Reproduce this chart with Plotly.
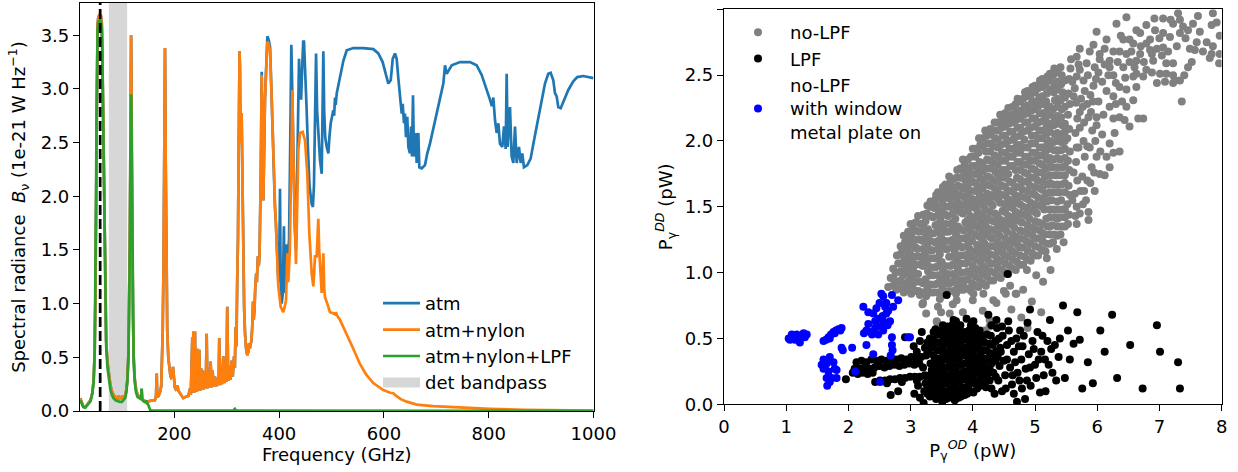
import plotly.graph_objects as go

# ---------------- left panel: atmospheric spectra ----------------
# (frequency GHz, spectral radiance 1e-21 W Hz^-1)
# below ~362 GHz the bare atmosphere and the nylon-filtered curve coincide
SPEC_SHARED = [
    (20.5, 0.118), (23, 0.08), (26.4, 0.04), (30, 0.035), (33, 0.05), (37, 0.08), (40, 0.10),
    (43.5, 0.17), (46, 0.28), (48, 0.55), (49.5, 1.1), (50.5, 1.9), (51.6, 2.8), (52.5, 3.35),
    (53.5, 3.6), (55, 3.67), (57.5, 3.69), (60, 3.68), (61.5, 3.62), (62.5, 3.4), (63.5, 3.0),
    (64.5, 2.5), (65.8, 1.9), (67, 1.4), (68.5, 0.95), (70, 0.65), (72.5, 0.45), (75, 0.33),
    (78, 0.24), (81, 0.18), (84, 0.15), (88, 0.13), (92, 0.12), (93.5, 0.14), (95, 0.12),
    (99, 0.12), (101, 0.145), (102.5, 0.12), (106, 0.14), (108.5, 0.2), (110.5, 0.3),
    (112.5, 0.55), (114, 1.0), (115.3, 1.7), (116.3, 2.6), (117, 3.2), (117.5, 3.50),
    (118.1, 3.2), (118.8, 2.5), (119.8, 1.6), (121, 0.9), (122.5, 0.5), (124.5, 0.3),
    (127, 0.2), (130, 0.15), (134, 0.13), (136.5, 0.12), (137.7, 0.2), (138.5, 0.12),
    (141, 0.10), (145, 0.09), (150, 0.09), (156, 0.1), (160, 0.1), (163, 0.10), (165, 0.13),
    (166.4, 0.35), (167.5, 0.13), (170, 0.14), (173, 0.18), (175, 0.23), (177.8, 0.73),
    (179.5, 1.4), (180.8, 2.3), (181.6, 3.0), (182.2, 3.38), (182.8, 3.0), (183.6, 2.3),
    (184.8, 1.4), (186.5, 0.75), (188.5, 0.5), (190.5, 0.4), (192.5, 0.33), (194, 0.31),
    (196, 0.32), (197.5, 0.41), (199, 0.28), (201, 0.22), (204, 0.19), (206, 0.24),
    (207.5, 0.19), (211, 0.16), (214, 0.14), (217, 0.12), (221, 0.13), (226.7, 0.14),
    (230, 0.21), (231.5, 0.15), (234.4, 0.69), (235.5, 0.17), (236.3, 0.74), (238, 0.17),
    (239.5, 0.74), (240.5, 0.18), (241.5, 0.51), (243, 0.18), (244.6, 0.58), (246, 0.19),
    (247.7, 0.57), (249.3, 0.19), (251, 0.40), (252.5, 0.2), (254, 0.38), (256, 0.2),
    (258.5, 0.37), (260, 0.21), (261.7, 0.72), (263.3, 0.21), (264.8, 0.35), (266.5, 0.22),
    (269.3, 0.46), (271, 0.22), (273, 0.38), (275, 0.23), (277.6, 0.32), (280, 0.23),
    (283, 0.3), (284.5, 0.24), (285.8, 0.68), (287.3, 0.24), (289, 0.40), (291, 0.25),
    (293.5, 0.51), (295.5, 0.26), (298, 0.35), (299.5, 0.27), (301, 0.97), (302.8, 0.28),
    (305, 0.42), (307, 0.29), (309.5, 0.47), (311.5, 0.32), (314, 0.51), (315.5, 0.4),
    (317, 0.78), (318.5, 0.6), (320, 1.19), (321.5, 1.6), (322.8, 2.4), (323.8, 3.1),
    (324.5, 3.35), (325.3, 3.2), (326.2, 2.6), (327.3, 2.5), (328.4, 2.77), (329.5, 2.3),
    (330.5, 1.8), (331.6, 1.34), (333.3, 0.95), (335, 0.72), (337, 0.58), (339.3, 0.52),
    (341, 0.55), (342.6, 0.63), (344, 0.58), (345.5, 0.62), (347, 0.65), (348.7, 0.78),
    (350.3, 1.02), (351.5, 0.85), (353, 0.95), (354.5, 1.15), (356.3, 1.28), (357.5, 1.2),
    (359.5, 1.44), (361, 1.35), (362.6, 1.44),
]

ATM_HIGH = [
    (365, 2.2), (366.8, 3.16), (368.5, 2.2), (369.9, 1.96), (373, 2.90), (375.5, 3.35),
    (377.6, 3.49), (380, 3.46), (382.7, 3.39), (385.9, 2.90), (389, 2.27), (392, 1.9),
    (394, 1.74), (396, 1.5), (398.5, 1.2), (400.5, 1.5), (401.7, 2.07), (403, 1.2),
    (405, 1.0), (407, 1.1), (409.2, 1.72), (410.5, 1.1), (412, 1.2), (413.2, 1.51),
    (415, 1.55), (417, 1.45), (419, 1.6), (421, 2.4), (423.3, 3.41), (425.5, 2.9),
    (428, 2.1), (430, 1.7), (432.2, 1.5), (434, 2.0), (436, 2.8), (438, 3.28), (440, 3.0),
    (442, 2.9), (444, 3.2), (446, 3.44), (447.5, 3.44), (449.5, 3.1), (452.6, 2.8),
    (455, 2.45), (458, 2.1), (462, 1.93), (464.5, 1.90), (466.5, 2.1), (468.5, 2.6),
    (470.5, 3.33), (472.5, 2.8), (475, 2.6), (478, 2.34), (481.3, 2.21), (483, 2.7),
    (484.4, 3.35), (486, 2.8), (488, 2.55), (490.8, 2.46), (494, 2.40), (496, 2.55),
    (498.5, 2.68), (503.4, 2.80), (505, 2.75), (506.7, 2.92), (508, 2.85), (510, 2.96),
    (516, 3.12), (522.5, 3.26), (529, 3.36), (541.7, 3.38), (560.7, 3.38), (579.8, 3.37),
    (589.3, 3.33), (597.6, 3.25), (604, 3.13), (608.4, 3.05), (613, 3.08), (616.8, 3.28),
    (621.1, 3.33), (624.4, 3.28), (627.5, 3.10), (630.7, 2.90), (634, 2.77), (635.8, 2.86),
    (638.3, 2.68), (640.2, 2.77), (642.1, 2.55), (644.6, 2.74), (646.6, 2.46), (649.8, 2.40),
    (651.7, 2.65), (653.6, 2.37), (655.5, 2.94), (657.4, 2.37), (660.6, 2.59), (662.5, 2.31),
    (665.7, 2.59), (667.6, 2.27), (672.1, 2.26), (678.4, 2.29), (682.8, 2.40), (687.9, 2.49),
    (697.5, 2.71), (707, 2.93), (713.4, 3.05), (716.6, 3.22), (719.8, 3.14), (729.4, 3.22),
    (745.2, 3.25), (764.3, 3.25), (777, 3.22), (786.6, 3.13), (796.1, 3.00), (802.4, 2.90),
    (806, 2.84), (808.8, 2.92), (812, 2.71), (815.2, 2.59), (818.4, 2.68), (821.5, 2.49),
    (826, 2.46), (829.2, 2.65), (832.4, 2.44), (834.3, 3.14), (836.2, 2.46), (840.6, 2.83),
    (843.8, 2.37), (847, 2.31), (850.2, 2.65), (853.4, 2.31), (857.8, 2.46), (861, 2.31),
    (864.1, 2.40), (867.3, 2.27), (873.7, 2.29), (880, 2.35), (886.4, 2.52), (891.5, 2.65),
    (895.3, 2.74), (901.1, 2.90), (907.4, 3.05), (913.7, 3.14), (918.3, 3.15), (923.3, 3.08),
    (926.5, 2.96), (929.7, 2.93), (932.8, 2.83), (937.4, 2.82), (943.7, 2.90), (951.9, 2.99),
    (961.4, 3.07), (969, 3.11), (980.5, 3.12), (1000, 3.10),
]

NYLON_HIGH = [
    (365, 2.2), (366.8, 3.13), (368.5, 2.2), (369.9, 1.96), (373, 2.90), (375.5, 3.3),
    (377.6, 3.44), (380, 3.42), (382.7, 3.35), (385.9, 2.90), (389, 2.27), (392, 1.95),
    (394, 1.72), (396, 1.4), (398.5, 1.16), (403, 0.97), (408, 0.92), (411, 0.98),
    (413.2, 1.03), (415.8, 1.47), (417.5, 1.2), (419, 1.34), (420.5, 1.5), (422, 1.96),
    (425.3, 2.99), (427, 2.4), (428.5, 2.09), (430.5, 1.6), (432.2, 1.37), (434.5, 1.9),
    (436.7, 2.43), (440, 2.59), (445, 2.60), (449.4, 2.52), (453.8, 2.21), (457.7, 1.65),
    (462.2, 1.28), (465.3, 1.16), (466.8, 1.3), (468.5, 1.44), (471.7, 1.44), (473.5, 1.6),
    (474.8, 1.79), (476.5, 1.5), (478, 1.34), (481.3, 1.10), (483, 1.25), (484.4, 1.47),
    (486, 1.15), (487.6, 1.06), (492, 1.00), (497, 0.92), (503.4, 0.91), (506.5, 0.90),
    (508.5, 0.92), (510.5, 0.89), (516, 0.85), (529, 0.72), (541.6, 0.58), (554, 0.44),
    (566, 0.34), (579.7, 0.26), (598.8, 0.195), (612, 0.17), (618, 0.165), (621, 0.15),
    (624, 0.14), (632, 0.11), (643.5, 0.087), (662.6, 0.06), (694, 0.045), (739, 0.033),
    (802, 0.02), (866, 0.011), (930, 0.005), (1000, 0.003),
]

SPEC_LPF = [
    (20.5, 0.10), (23, 0.07), (26.4, 0.035), (30, 0.03), (33, 0.045), (37, 0.07), (40, 0.09),
    (43.5, 0.16), (46, 0.27), (48, 0.54), (49.5, 1.1), (50.5, 1.9), (51.6, 2.8), (52.5, 3.3),
    (53.5, 3.55), (55, 3.62), (57.5, 3.64), (60, 3.63), (61.5, 3.57), (62.5, 3.35),
    (63.5, 2.95), (64.5, 2.45), (65.8, 1.85), (67, 1.35), (68.5, 0.9), (70, 0.6),
    (72.5, 0.4), (75, 0.29), (78, 0.2), (81, 0.15), (84, 0.12), (88, 0.10), (92, 0.09),
    (96, 0.085), (100, 0.085), (103, 0.1), (106, 0.12), (108.5, 0.17), (110.5, 0.28),
    (112.5, 0.5), (114, 0.95), (115.3, 1.6), (116.3, 2.4), (117, 2.85), (117.5, 2.95),
    (118.1, 2.85), (118.8, 2.3), (119.8, 1.5), (121, 0.85), (122.5, 0.45), (124.5, 0.27),
    (127, 0.17), (130, 0.13), (134, 0.12), (136.5, 0.11), (137.7, 0.21), (138.5, 0.11),
    (141, 0.09), (145, 0.08), (146.5, 0.1), (148, 0.07), (150, 0.06), (152, 0.03),
    (154, 0.01), (157, 0.003), (312, 0.003), (315.5, 0.02), (318, 0.003), (1000, 0.002),
]

BAND_LO_GHZ, BAND_HI_GHZ = 75.0, 110.0   # detector bandpass
LINE_GHZ = 58.5                          # dashed marker frequency
FREQ_RANGE = (20, 1000)
RAD_RANGE = (0, 3.8)

# ---------------- right panel: optical loading scatter (pW) ----------------
NO_LPF = [
    (2.64, 0.89), (2.68, 0.96),
    (2.77, 0.87), (2.79, 0.93), (2.76, 1.00), (2.80, 1.07), (2.78, 1.13),
    (2.89, 0.85), (2.91, 0.91), (2.88, 0.98), (2.92, 1.04), (2.90, 1.10), (2.87, 1.17), (2.91, 1.23), (2.89, 1.28),
    (3.01, 0.84), (3.03, 0.90), (3.00, 0.96), (3.04, 1.03), (3.02, 1.09), (2.99, 1.15), (3.03, 1.22), (3.01, 1.28),
    (3.04, 1.33), (3.00, 1.37),
    (3.13, 0.86), (3.15, 0.93), (3.12, 0.99), (3.16, 1.06), (3.14, 1.12), (3.11, 1.18), (3.15, 1.25), (3.13, 1.31),
    (3.16, 1.37), (3.12, 1.43),
    (3.25, 0.82), (3.27, 0.88), (3.24, 0.95), (3.28, 1.01), (3.26, 1.08), (3.23, 1.14), (3.27, 1.20), (3.25, 1.27),
    (3.28, 1.33), (3.24, 1.39), (3.26, 1.45), (3.27, 1.51),
    (3.37, 0.85), (3.39, 0.91), (3.36, 0.98), (3.40, 1.04), (3.38, 1.11), (3.35, 1.17), (3.39, 1.23), (3.37, 1.30),
    (3.40, 1.36), (3.36, 1.42), (3.38, 1.49), (3.39, 1.55), (3.41, 1.59),
    (3.49, 0.82), (3.51, 0.89), (3.48, 0.95), (3.52, 1.02), (3.50, 1.08), (3.47, 1.14), (3.51, 1.21), (3.49, 1.27),
    (3.52, 1.34), (3.48, 1.40), (3.50, 1.46), (3.51, 1.53), (3.49, 1.59), (3.52, 1.65),
    (3.61, 0.86), (3.63, 0.92), (3.60, 0.99), (3.64, 1.05), (3.62, 1.12), (3.59, 1.18), (3.63, 1.24), (3.61, 1.31),
    (3.64, 1.37), (3.60, 1.43), (3.62, 1.50), (3.63, 1.56), (3.61, 1.62), (3.64, 1.68), (3.62, 1.73),
    (3.73, 0.84), (3.75, 0.90), (3.72, 0.97), (3.76, 1.03), (3.74, 1.10), (3.71, 1.16), (3.75, 1.22), (3.73, 1.29),
    (3.76, 1.35), (3.72, 1.41), (3.74, 1.48), (3.75, 1.54), (3.73, 1.60), (3.76, 1.66), (3.74, 1.72), (3.75, 1.78),
    (3.85, 0.87), (3.87, 0.94), (3.84, 1.00), (3.88, 1.07), (3.86, 1.13), (3.83, 1.19), (3.87, 1.26), (3.85, 1.32),
    (3.88, 1.38), (3.84, 1.45), (3.86, 1.51), (3.87, 1.57), (3.85, 1.64), (3.88, 1.70), (3.86, 1.76), (3.87, 1.82),
    (3.84, 1.86),
    (3.97, 0.86), (3.99, 0.92), (3.96, 0.99), (4.00, 1.05), (3.98, 1.12), (3.95, 1.18), (3.99, 1.24), (3.97, 1.31),
    (4.00, 1.37), (3.96, 1.43), (3.98, 1.50), (3.99, 1.56), (3.97, 1.62), (4.00, 1.69), (3.98, 1.75), (3.99, 1.81),
    (3.97, 1.88), (4.00, 1.94),
    (4.09, 0.89), (4.11, 0.95), (4.08, 1.02), (4.12, 1.08), (4.10, 1.15), (4.07, 1.21), (4.11, 1.27), (4.09, 1.34),
    (4.12, 1.40), (4.08, 1.46), (4.10, 1.53), (4.11, 1.59), (4.09, 1.65), (4.12, 1.72), (4.10, 1.78), (4.11, 1.84),
    (4.09, 1.91), (4.12, 1.97), (4.10, 2.02),
    (4.21, 0.90), (4.23, 0.97), (4.20, 1.03), (4.24, 1.10), (4.22, 1.16), (4.19, 1.22), (4.23, 1.29), (4.21, 1.35),
    (4.24, 1.41), (4.20, 1.48), (4.22, 1.54), (4.23, 1.60), (4.21, 1.67), (4.24, 1.73), (4.22, 1.79), (4.23, 1.86),
    (4.21, 1.92), (4.24, 1.98), (4.22, 2.04), (4.20, 2.08),
    (4.33, 0.94), (4.35, 1.00), (4.32, 1.07), (4.36, 1.13), (4.34, 1.20), (4.31, 1.26), (4.35, 1.32), (4.33, 1.39),
    (4.36, 1.45), (4.32, 1.51), (4.34, 1.58), (4.35, 1.64), (4.33, 1.70), (4.36, 1.77), (4.34, 1.83), (4.35, 1.89),
    (4.33, 1.96), (4.36, 2.02), (4.34, 2.08), (4.35, 2.14),
    (4.45, 0.96), (4.47, 1.02), (4.44, 1.09), (4.48, 1.15), (4.46, 1.21), (4.43, 1.28), (4.47, 1.34), (4.45, 1.40),
    (4.48, 1.47), (4.44, 1.53), (4.46, 1.59), (4.47, 1.66), (4.45, 1.72), (4.48, 1.78), (4.46, 1.85), (4.47, 1.91),
    (4.45, 1.97), (4.48, 2.04), (4.46, 2.10), (4.47, 2.16), (4.44, 2.20),
    (4.57, 0.99), (4.59, 1.05), (4.56, 1.12), (4.60, 1.18), (4.58, 1.24), (4.55, 1.31), (4.59, 1.37), (4.57, 1.43),
    (4.60, 1.50), (4.56, 1.56), (4.58, 1.62), (4.59, 1.69), (4.57, 1.75), (4.60, 1.81), (4.58, 1.88), (4.59, 1.94),
    (4.57, 2.00), (4.60, 2.07), (4.58, 2.13), (4.59, 2.19), (4.57, 2.25),
    (4.69, 1.02), (4.71, 1.08), (4.68, 1.15), (4.72, 1.21), (4.70, 1.27), (4.67, 1.34), (4.71, 1.40), (4.69, 1.46),
    (4.72, 1.53), (4.68, 1.59), (4.70, 1.65), (4.71, 1.72), (4.69, 1.78), (4.72, 1.84), (4.70, 1.91), (4.71, 1.97),
    (4.69, 2.03), (4.72, 2.10), (4.70, 2.16), (4.71, 2.22), (4.69, 2.28), (4.72, 2.32),
    (4.81, 1.06), (4.83, 1.12), (4.80, 1.19), (4.84, 1.25), (4.82, 1.31), (4.79, 1.38), (4.83, 1.44), (4.81, 1.50),
    (4.84, 1.57), (4.80, 1.63), (4.82, 1.69), (4.83, 1.76), (4.81, 1.82), (4.84, 1.88), (4.82, 1.95), (4.83, 2.01),
    (4.81, 2.07), (4.84, 2.14), (4.82, 2.20), (4.83, 2.26), (4.81, 2.32), (4.84, 2.37),
    (4.93, 1.09), (4.95, 1.15), (4.92, 1.22), (4.96, 1.28), (4.94, 1.34), (4.91, 1.41), (4.95, 1.47), (4.93, 1.53),
    (4.96, 1.60), (4.92, 1.66), (4.94, 1.72), (4.95, 1.79), (4.93, 1.85), (4.96, 1.91), (4.94, 1.98), (4.95, 2.04),
    (4.93, 2.10), (4.96, 2.17), (4.94, 2.23), (4.95, 2.29), (4.93, 2.35), (4.96, 2.41),
    (5.05, 1.13), (5.07, 1.19), (5.04, 1.26), (5.08, 1.32), (5.06, 1.38), (5.03, 1.45), (5.07, 1.51), (5.05, 1.57),
    (5.08, 1.64), (5.04, 1.70), (5.06, 1.76), (5.07, 1.83), (5.05, 1.89), (5.08, 1.95), (5.06, 2.02), (5.07, 2.08),
    (5.05, 2.14), (5.08, 2.21), (5.06, 2.27), (5.07, 2.33), (5.05, 2.40), (5.08, 2.46),
    (5.17, 1.16), (5.19, 1.22), (5.16, 1.29), (5.20, 1.35), (5.18, 1.41), (5.15, 1.48), (5.19, 1.54), (5.17, 1.60),
    (5.20, 1.67), (5.16, 1.73), (5.18, 1.79), (5.19, 1.86), (5.17, 1.92), (5.20, 1.98), (5.18, 2.05), (5.19, 2.11),
    (5.17, 2.17), (5.20, 2.24), (5.18, 2.30), (5.19, 2.36), (5.17, 2.43), (5.20, 2.49),
    (5.29, 1.23), (5.31, 1.29), (5.28, 1.36), (5.32, 1.42), (5.30, 1.48), (5.27, 1.55), (5.31, 1.61), (5.29, 1.67),
    (5.32, 1.74), (5.28, 1.80), (5.30, 1.86), (5.31, 1.93), (5.29, 1.99), (5.32, 2.05), (5.30, 2.12), (5.31, 2.18),
    (5.29, 2.24), (5.32, 2.31), (5.30, 2.37), (5.31, 2.43), (5.29, 2.50), (5.31, 2.55),
    (5.41, 1.29), (5.43, 1.35), (5.40, 1.42), (5.44, 1.48), (5.42, 1.55), (5.39, 1.61), (5.43, 1.67), (5.41, 1.74),
    (5.44, 1.80), (5.40, 1.86), (5.42, 1.93), (5.43, 1.99), (5.41, 2.05), (5.44, 2.12), (5.42, 2.18), (5.43, 2.24),
    (5.41, 2.31), (5.44, 2.37), (5.42, 2.43), (5.43, 2.50), (5.41, 2.56),
    (5.53, 1.37), (5.55, 1.44), (5.52, 1.52), (5.56, 1.59), (5.54, 1.66), (5.55, 1.78), (5.53, 1.85), (5.56, 1.92),
    (5.52, 2.02), (5.55, 2.09), (5.53, 2.20), (5.56, 2.28), (5.54, 2.36), (5.55, 2.47), (5.57, 2.55),
    (5.65, 1.43), (5.67, 1.50), (5.64, 1.60), (5.68, 1.70), (5.66, 1.84), (5.67, 1.95), (5.65, 2.06), (5.68, 2.17),
    (5.66, 2.29), (5.64, 2.40), (5.67, 2.49),
    (5.77, 1.52), (5.79, 1.62), (5.76, 1.73), (5.80, 1.88), (5.78, 2.00), (5.79, 2.14), (5.77, 2.26), (5.80, 2.38),
    (5.78, 2.46),
    (5.89, 1.68), (5.91, 1.80), (5.88, 1.95), (5.92, 2.08), (5.90, 2.22), (5.89, 2.35),
    # upper-right spread
    (5.58, 2.62), (5.62, 2.34), (5.70, 2.58), (5.74, 2.32), (5.85, 2.50), (5.88, 2.68), (5.96, 2.56), (5.93, 2.30),
    (5.60, 2.45), (5.72, 2.22), (5.84, 2.28), (5.98, 2.47), (5.60, 1.55), (5.62, 1.76), (5.70, 1.95), (5.73, 1.62),
    (5.72, 2.10), (5.84, 1.70), (5.84, 1.96), (5.86, 2.18), (5.95, 1.76), (5.97, 2.00), (5.99, 2.12), (6.05, 1.92),
    (6.08, 2.05), (6.10, 2.20), (6.02, 2.30), (5.82, 1.55), (6.08, 2.45), (6.12, 2.70), (6.18, 2.50), (6.30, 2.44),
    (6.33, 2.60), (6.38, 2.80), (6.45, 2.48), (6.55, 2.68), (6.60, 2.56), (6.40, 2.30), (6.30, 2.28), (6.12, 2.58),
    (6.70, 2.72), (6.75, 2.60), (6.88, 2.52), (6.92, 2.93), (7.00, 2.78), (7.14, 2.68), (7.18, 2.92), (7.28, 2.72),
    (7.42, 2.78), (7.52, 2.60), (7.70, 2.68), (7.92, 2.90), (7.62, 2.95), (6.88, 2.66), (7.40, 2.50),
    (7.86, 2.97), (7.84, 2.88), (7.97, 2.80), (7.96, 2.59), (7.84, 2.66), (7.76, 2.75), (7.60, 2.75), (7.57, 2.69),
    (7.49, 2.70), (7.46, 2.56), (7.36, 2.30), (7.33, 2.46), (7.25, 2.46), (7.22, 2.59), (7.30, 2.97), (7.33, 2.92),
    (7.22, 2.89), (7.38, 2.87), (7.46, 2.84), (7.06, 2.93), (7.06, 2.82), (6.93, 2.84), (6.79, 2.88), (6.63, 2.84),
    (6.69, 2.82), (6.47, 2.94), (6.31, 2.89), (5.99, 2.83), (5.72, 2.70), (6.04, 2.66), (6.20, 2.61), (6.36, 2.68),
    (6.52, 2.60), (6.52, 2.77), (6.79, 2.74), (6.85, 2.77), (6.96, 2.70), (7.04, 2.65), (7.11, 2.59), (7.01, 2.51),
    (6.96, 2.44), (7.09, 2.45), (7.22, 2.50), (6.74, 2.49), (6.79, 2.54), (6.63, 2.51), (6.63, 2.41), (6.58, 2.31),
    (6.47, 2.26), (6.74, 2.17), (6.66, 2.17), (6.52, 2.11), (6.44, 2.16), (6.36, 2.18), (6.26, 2.17), (6.28, 2.06),
    (6.20, 1.98), (6.36, 1.92), (6.26, 1.91), (6.15, 1.88), (6.20, 1.80), (5.99, 1.88), (6.04, 1.75), (6.12, 1.74),
    (5.96, 1.62), (5.86, 1.46), (5.86, 1.40), (5.72, 1.45), (5.67, 1.37), (5.46, 1.23), (5.35, 1.18), (5.19, 1.11),
    (5.13, 0.93), (4.81, 0.87), (4.70, 0.84), (4.87, 1.02), (5.94, 2.42), (6.26, 2.50), (6.15, 2.38), (6.36, 2.41),
    (6.20, 2.26), (5.99, 2.18), (6.26, 2.34), (6.47, 2.39), (6.58, 2.49), (6.42, 2.56), (6.20, 2.56), (6.02, 2.52),
    (5.83, 2.59), (5.72, 2.54), (6.04, 2.62), (6.26, 2.68), (6.47, 2.66), (6.58, 2.74), (6.69, 2.66), (6.90, 2.61),
    (7.11, 2.51), (7.22, 2.44), (6.63, 2.61), (6.85, 2.69), (7.06, 2.71), (7.17, 2.79), (7.33, 2.82), (7.54, 2.89),
    (7.65, 2.83), (7.86, 2.72), (7.97, 2.66), (7.81, 2.63), (6.42, 2.77), (6.15, 2.77), (5.94, 2.73), (5.67, 2.64),
    # lower fringe, partly under the filtered points
    (3.15, 0.83), (3.20, 0.77), (3.47, 0.80), (3.44, 0.74), (3.42, 0.63), (3.47, 0.54), (3.63, 0.69), (3.74, 0.79),
    (3.85, 0.89), (4.01, 0.84), (4.17, 0.84), (4.33, 0.79), (4.27, 0.64), (4.19, 0.56), (3.58, 0.97), (3.19, 0.76),
    (3.25, 0.69), (3.43, 0.62), (3.49, 0.70), (3.68, 0.76), (3.84, 0.70), (4.00, 0.79), (4.16, 0.71), (4.27, 0.59),
    (4.38, 0.77), (4.53, 0.84), (4.69, 0.84), (3.41, 0.55), (3.73, 0.59), (4.62, 0.72), (4.78, 0.66), (4.95, 0.78),
    (5.10, 0.70), (4.88, 0.58), (5.02, 0.98), (5.25, 1.02), (4.60, 0.90), (4.50, 0.86),
]

# extra no-LPF columns filling the dense core: (P_OD, [P_DD values])
NO_LPF_CORE_COLS = [
    (2.72, [0.90, 0.96, 1.03]),
    (2.84, [0.88, 0.94, 1.01, 1.07, 1.14, 1.20]),
    (2.96, [0.87, 0.93, 1.00, 1.06, 1.13, 1.19, 1.26, 1.31]),
    (3.08, [0.86, 0.93, 0.99, 1.06, 1.12, 1.19, 1.25, 1.32, 1.38]),
    (3.20, [0.85, 0.92, 1.05, 1.11, 1.18, 1.24, 1.31, 1.37, 1.44]),
    (3.32, [0.85, 0.91, 0.98, 1.04, 1.11, 1.17, 1.24, 1.30, 1.43, 1.50, 1.54]),
    (3.44, [0.85, 0.92, 0.98, 1.05, 1.11, 1.18, 1.24, 1.31, 1.37, 1.44, 1.50, 1.57, 1.61]),
    (3.56, [0.85, 0.92, 0.98, 1.05, 1.18, 1.24, 1.31, 1.37, 1.44, 1.50, 1.57, 1.63, 1.67]),
    (3.68, [0.86, 0.93, 0.99, 1.06, 1.12, 1.19, 1.25, 1.32, 1.38, 1.45, 1.51, 1.58, 1.64, 1.71]),
    (3.80, [0.87, 0.94, 1.00, 1.07, 1.13, 1.20, 1.26, 1.33, 1.46, 1.52, 1.59, 1.65, 1.72, 1.79]),
    (3.92, [0.88, 0.95, 1.01, 1.08, 1.14, 1.21, 1.27, 1.34, 1.40, 1.47, 1.53, 1.60, 1.66, 1.73, 1.79, 1.86]),
    (4.04, [0.90, 0.97, 1.03, 1.10, 1.16, 1.29, 1.36, 1.42, 1.49, 1.55, 1.62, 1.68, 1.75, 1.81, 1.88, 1.94]),
    (4.16, [0.92, 0.99, 1.05, 1.12, 1.18, 1.25, 1.31, 1.38, 1.44, 1.51, 1.57, 1.64, 1.70, 1.77, 1.83, 1.96, 2.02]),
    (4.28, [0.94, 1.01, 1.07, 1.14, 1.20, 1.27, 1.33, 1.40, 1.46, 1.53, 1.59, 1.66, 1.72, 1.79, 1.85, 1.92, 1.98,
            2.05, 2.09]),
    (4.40, [0.97, 1.04, 1.10, 1.17, 1.23, 1.30, 1.36, 1.43, 1.56, 1.62, 1.69, 1.75, 1.82, 1.88, 1.95, 2.01, 2.08,
            2.14]),
    (4.52, [1.00, 1.07, 1.13, 1.20, 1.26, 1.33, 1.39, 1.46, 1.52, 1.59, 1.65, 1.72, 1.78, 1.85, 1.91, 1.98, 2.04,
            2.11, 2.17, 2.21]),
    (4.64, [1.03, 1.10, 1.16, 1.23, 1.29, 1.36, 1.42, 1.49, 1.55, 1.62, 1.68, 1.81, 1.88, 1.94, 2.01, 2.07, 2.14,
            2.20, 2.26]),
    (4.76, [1.06, 1.13, 1.19, 1.26, 1.32, 1.39, 1.45, 1.52, 1.58, 1.65, 1.71, 1.78, 1.84, 1.91, 1.97, 2.04, 2.10,
            2.17, 2.23, 2.30]),
    (4.88, [1.10, 1.17, 1.23, 1.30, 1.36, 1.43, 1.49, 1.56, 1.62, 1.69, 1.75, 1.82, 1.88, 1.95, 2.08, 2.14, 2.21,
            2.27, 2.34, 2.38]),
    (5.00, [1.13, 1.20, 1.26, 1.33, 1.39, 1.46, 1.52, 1.59, 1.65, 1.72, 1.78, 1.85, 1.91, 1.98, 2.04, 2.11, 2.17,
            2.24, 2.30, 2.37, 2.42]),
    (5.12, [1.17, 1.24, 1.30, 1.37, 1.50, 1.56, 1.63, 1.69, 1.76, 1.82, 1.89, 1.95, 2.02, 2.08, 2.15, 2.21, 2.28,
            2.34, 2.41, 2.47]),
    (5.24, [1.22, 1.29, 1.35, 1.42, 1.48, 1.55, 1.61, 1.68, 1.74, 1.81, 1.87, 1.94, 2.00, 2.07, 2.13, 2.20, 2.26,
            2.39, 2.46, 2.51]),
    (5.36, [1.28, 1.35, 1.41, 1.48, 1.54, 1.61, 1.67, 1.74, 1.80, 1.87, 1.93, 2.00, 2.06, 2.13, 2.19, 2.26, 2.32,
            2.39, 2.45, 2.52]),
    (5.48, [1.35, 1.42, 1.48, 1.61, 1.68, 1.74, 1.81, 1.87, 1.94, 2.00, 2.07, 2.13, 2.26, 2.33, 2.46]),
]

WITH_LPF = [
    (2.10, 0.27), (2.18, 0.27), (2.26, 0.28), (2.34, 0.27), (2.42, 0.28), (2.50, 0.29), (2.58, 0.28), (2.66, 0.29),
    (2.74, 0.30), (2.82, 0.29), (2.90, 0.30), (2.98, 0.31), (3.06, 0.30), (3.14, 0.31),
    (2.13, 0.32), (2.21, 0.33), (2.29, 0.32), (2.37, 0.34), (2.45, 0.33), (2.53, 0.34), (2.61, 0.33), (2.69, 0.35),
    (2.77, 0.34), (2.85, 0.35), (2.93, 0.34), (3.01, 0.36), (3.09, 0.35), (3.17, 0.36), (3.25, 0.37),
    (2.07, 0.24), (2.15, 0.23), (2.23, 0.24), (2.31, 0.23), (2.39, 0.24),
    (2.43, 0.17), (2.51, 0.18), (2.59, 0.18), (2.67, 0.19), (2.75, 0.19), (2.83, 0.20), (2.91, 0.20), (2.99, 0.21),
    (3.07, 0.21), (3.15, 0.21), (3.23, 0.22), (3.31, 0.22), (2.62, 0.16), (2.86, 0.17), (3.10, 0.18),
    (1.96, 0.19), (2.68, 0.07), (2.91, 0.51), (3.06, 0.08), (3.21, 0.01), (3.58, 0.83), (4.56, 0.99),
    (3.12, 0.14), (3.37, 0.55), (3.05, 0.44), (3.15, 0.48), (3.10, 0.40), (3.18, 0.55), (2.80, 0.10), (3.15, 0.05),
    (3.22, 0.10), (3.24, 0.16), (3.20, 0.28), (3.23, 0.43),
    (3.31, 0.06), (3.33, 0.12), (3.30, 0.18), (3.34, 0.26), (3.32, 0.31), (3.29, 0.39), (3.33, 0.45), (3.31, 0.50),
    (3.41, 0.04), (3.43, 0.10), (3.40, 0.16), (3.44, 0.22), (3.42, 0.28), (3.39, 0.34), (3.43, 0.41), (3.41, 0.47),
    (3.44, 0.53), (3.40, 0.57),
    (3.51, 0.02), (3.53, 0.08), (3.50, 0.14), (3.54, 0.20), (3.52, 0.26), (3.49, 0.32), (3.53, 0.38), (3.51, 0.44),
    (3.54, 0.50), (3.50, 0.56), (3.52, 0.60),
    (3.61, 0.05), (3.63, 0.11), (3.60, 0.17), (3.64, 0.23), (3.62, 0.29), (3.59, 0.35), (3.63, 0.41), (3.61, 0.47),
    (3.64, 0.53), (3.60, 0.59), (3.69, 0.64),
    (3.71, 0.03), (3.73, 0.09), (3.70, 0.15), (3.74, 0.21), (3.72, 0.27), (3.69, 0.33), (3.73, 0.39), (3.71, 0.45),
    (3.74, 0.51), (3.70, 0.57), (3.73, 0.63),
    (3.81, 0.06), (3.83, 0.12), (3.80, 0.18), (3.84, 0.24), (3.82, 0.30), (3.79, 0.36), (3.83, 0.42), (3.81, 0.48),
    (3.84, 0.54), (3.80, 0.60),
    (3.91, 0.08), (3.93, 0.14), (3.90, 0.20), (3.94, 0.26), (3.92, 0.32), (3.89, 0.38), (3.93, 0.44), (3.91, 0.50),
    (3.94, 0.56), (3.90, 0.65),
    (4.01, 0.09), (4.03, 0.16), (4.00, 0.22), (4.04, 0.28), (4.02, 0.34), (3.99, 0.40), (4.03, 0.46), (4.01, 0.52),
    (4.04, 0.58), (4.01, 0.63),
    (4.12, 0.14), (4.13, 0.20), (4.10, 0.26), (4.14, 0.32), (4.12, 0.38), (4.09, 0.44), (4.13, 0.50), (4.11, 0.56),
    (4.21, 0.13), (4.23, 0.22), (4.20, 0.28), (4.24, 0.34), (4.22, 0.41), (4.19, 0.47), (4.23, 0.53), (4.25, 0.68),
    (4.30, 0.12), (4.33, 0.24), (4.30, 0.31), (4.34, 0.38), (4.32, 0.45), (4.29, 0.52),
    (4.35, 0.08), (4.41, 0.18), (4.43, 0.29), (4.40, 0.36), (4.44, 0.43), (4.42, 0.50), (4.39, 0.58),
    (4.45, 0.40), (4.48, 0.52), (4.53, 0.12), (4.55, 0.34), (4.57, 0.63), (4.62, 0.48), (4.64, 0.22), (4.68, 0.32),
    (4.74, 0.44), (4.79, 0.12), (4.82, 0.52), (4.87, 0.18), (4.92, 0.28), (4.98, 0.42), (5.02, 0.20), (5.06, 0.34),
    (5.12, 0.52), (5.14, 0.22), (5.22, 0.30), (5.26, 0.42), (5.34, 0.18), (5.40, 0.50), (4.38, 0.64), (4.47, 0.59),
    (4.30, 0.60),
    (4.47, 0.10), (4.52, 0.22), (4.50, 0.33), (4.55, 0.45), (4.58, 0.56), (4.60, 0.28), (4.63, 0.15), (4.66, 0.08),
    (4.66, 0.40), (4.70, 0.50), (4.71, 0.02), (4.72, 0.24), (4.75, 0.18), (4.76, 0.56), (4.78, 0.34), (4.80, 0.44),
    (4.84, 0.04), (4.85, 0.27), (4.88, 0.62), (4.90, 0.38), (4.92, 0.72), (4.93, 0.14), (4.96, 0.48), (5.00, 0.30),
    (5.04, 0.55), (5.08, 0.09), (5.10, 0.40), (5.16, 0.34), (5.17, 0.10), (5.20, 0.48), (5.24, 0.64), (5.28, 0.24),
    (5.32, 0.45), (5.38, 0.36), (5.45, 0.75), (5.48, 0.20), (5.53, 0.56), (5.56, 0.34), (5.62, 0.46), (5.68, 0.70),
    (5.72, 0.49), (5.76, 0.12), (5.85, 0.32), (5.93, 0.16), (6.05, 0.56), (6.12, 0.40), (6.24, 0.68), (6.32, 0.20),
    (6.53, 0.45), (6.73, 0.12), (6.96, 0.60), (7.01, 0.40), (7.30, 0.32), (7.33, 0.12),
]

# extra LPF columns filling the dense core
WITH_LPF_CORE_COLS = [
    (3.27, [0.08, 0.14, 0.20, 0.41, 0.47]),
    (3.37, [0.07, 0.13, 0.19, 0.25, 0.31, 0.37, 0.43, 0.49]),
    (3.47, [0.05, 0.11, 0.17, 0.23, 0.29, 0.35, 0.41, 0.47, 0.53]),
    (3.57, [0.04, 0.10, 0.16, 0.22, 0.28, 0.34, 0.40, 0.46, 0.52, 0.57]),
    (3.67, [0.06, 0.12, 0.18, 0.24, 0.30, 0.36, 0.42, 0.48, 0.54, 0.60]),
    (3.77, [0.05, 0.11, 0.17, 0.23, 0.29, 0.35, 0.41, 0.47, 0.53, 0.58]),
    (3.87, [0.07, 0.13, 0.19, 0.25, 0.31, 0.37, 0.43, 0.49, 0.55]),
    (3.97, [0.10, 0.17, 0.23, 0.29, 0.35, 0.41, 0.47, 0.53, 0.60]),
    (4.07, [0.12, 0.18, 0.24, 0.30, 0.36, 0.42, 0.48, 0.54]),
    (4.17, [0.17, 0.23, 0.29, 0.35, 0.41, 0.47, 0.52]),
    (4.27, [0.18, 0.27, 0.33, 0.39, 0.46]),
    (4.37, [0.21, 0.33, 0.40, 0.48]),
]

WINDOW_PLATE = [
    (1.04, 0.50), (1.09, 0.53), (1.14, 0.49), (1.22, 0.47), (1.28, 0.54), (1.33, 0.53), (1.19, 0.51), (1.25, 0.51),
    (1.30, 0.51), (1.06, 0.49), (1.17, 0.53),
    (1.60, 0.48), (1.64, 0.49), (1.68, 0.51), (1.72, 0.53), (1.76, 0.55), (1.80, 0.56), (1.84, 0.57), (1.89, 0.58),
    (1.70, 0.50), (1.78, 0.54), (1.87, 0.56),
    (1.89, 0.43), (1.91, 0.41), (2.06, 0.43),
    (1.60, 0.34), (1.57, 0.30), (1.60, 0.27), (1.65, 0.31), (1.70, 0.36), (1.76, 0.32), (1.78, 0.27), (1.81, 0.26),
    (1.68, 0.25), (1.65, 0.20), (1.73, 0.20), (1.81, 0.20), (1.66, 0.14), (1.70, 0.17), (1.62, 0.28),
    (2.11, 0.25), (2.51, 0.17),
    (2.24, 0.74), (2.32, 0.70), (2.40, 0.69), (2.45, 0.73), (2.50, 0.77), (2.53, 0.84), (2.56, 0.82), (2.59, 0.74),
    (2.61, 0.69), (2.70, 0.83), (2.80, 0.79), (2.72, 0.74), (2.67, 0.63), (2.56, 0.63), (2.48, 0.65), (2.43, 0.63),
    (2.32, 0.61), (2.29, 0.56), (2.25, 0.54), (2.35, 0.55), (2.43, 0.58), (2.51, 0.59), (2.56, 0.56), (2.48, 0.53),
    (2.38, 0.53), (2.29, 0.45), (2.70, 0.51), (2.70, 0.45), (2.71, 0.41), (2.68, 0.37), (2.40, 0.38), (2.96, 0.51),
    (2.99, 0.51), (2.61, 0.77), (2.64, 0.71), (2.55, 0.67), (2.63, 0.60),
]

FONT = "DejaVu Sans"
W, H = 1238, 472


def xs(pts):
    return [p[0] for p in pts]


def ys(pts):
    return [p[1] for p in pts]


def expand(cols):
    return [(x, y) for x, col in cols for y in col]


atm = SPEC_SHARED + ATM_HIGH
atm_nylon = SPEC_SHARED + NYLON_HIGH
no_lpf_pts = NO_LPF + expand(NO_LPF_CORE_COLS)
lpf_pts = WITH_LPF + expand(WITH_LPF_CORE_COLS)

fig = go.Figure()

# detector bandpass as a shaded band spanning the radiance axis
fig.add_trace(go.Scatter(
    x=[BAND_LO_GHZ, BAND_LO_GHZ, BAND_HI_GHZ, BAND_HI_GHZ],
    y=[RAD_RANGE[0], RAD_RANGE[1], RAD_RANGE[1], RAD_RANGE[0]],
    fill="toself", fillcolor="#d7d7d7", mode="lines", line=dict(width=0, color="#d7d7d7"),
    showlegend=False, xaxis="x", yaxis="y", hoverinfo="skip"))
# legend swatch for the bandpass
fig.add_trace(go.Scatter(
    x=[None], y=[None], mode="lines", line=dict(color="#d7d7d7", width=13),
    name="det bandpass", legend="legend", legendrank=4, xaxis="x", yaxis="y"))

for pts, name, color, rank in [
    (atm, "atm", "#1f77b4", 1),
    (atm_nylon, "atm+nylon", "#ff7f0e", 2),
    (SPEC_LPF, "atm+nylon+LPF", "#2ca02c", 3),
]:
    fig.add_trace(go.Scatter(
        x=xs(pts), y=ys(pts), mode="lines", name=name, legend="legend", legendrank=rank,
        line=dict(color=color, width=2.7), xaxis="x", yaxis="y"))

for pts, name, color in [
    (no_lpf_pts, "no-LPF", "#808080"),
    (lpf_pts, "LPF", "#000000"),
    (WINDOW_PLATE, "no-LPF<br>with window<br>metal plate on", "#0000ff"),
]:
    fig.add_trace(go.Scatter(
        x=xs(pts), y=ys(pts), mode="markers", name=name, legend="legend2",
        marker=dict(color=color, size=8, line=dict(width=0)), xaxis="x2", yaxis="y2"))

fig.add_shape(type="line", xref="x", yref="y domain", x0=LINE_GHZ, x1=LINE_GHZ, y0=0, y1=1,
              line=dict(color="black", width=2.7, dash="10px,4px"), layer="above")

axis_common = dict(
    showline=True, mirror=True, linecolor="black", linewidth=1.2,
    ticks="outside", ticklen=6, tickwidth=1.2, tickcolor="black",
    showgrid=False, zeroline=False, automargin=False,
    tickfont=dict(family=FONT, size=18, color="black"),
    title_font=dict(family=FONT, size=18, color="black"),
)

fig.update_layout(
    width=W, height=H, autosize=False,
    margin=dict(l=0, r=0, t=0, b=0, autoexpand=False),
    paper_bgcolor="white", plot_bgcolor="white",
    font=dict(family=FONT, size=18, color="black"),
    xaxis=dict(domain=[80 / W, 593.5 / W], range=list(FREQ_RANGE),
               tickvals=[200, 400, 600, 800, 1000], anchor="y",
               title=dict(text="Frequency (GHz)", standoff=5), **axis_common),
    yaxis=dict(domain=[1 - 411 / H, 1 - 3 / H], range=list(RAD_RANGE), dtick=0.5,
               tickformat=".1f", anchor="x",
               title=dict(text="Spectral radiance  <i>B</i><sub>ν</sub> (1e-21 W Hz<sup>−1</sup>)",
                          standoff=10), **axis_common),
    xaxis2=dict(domain=[724 / W, 1221.6 / W], range=[0, 8], dtick=1, anchor="y2",
                title=dict(text="P<sub>γ</sub><sup><i>OD</i></sup> (pW)", standoff=4), **axis_common),
    yaxis2=dict(domain=[1 - 404.3 / H, 1 - 9.3 / H], range=[0, 3], dtick=0.5, tickformat=".1f",
                anchor="x2",
                title=dict(text="P<sub>γ</sub><sup><i>DD</i></sup> (pW)", standoff=7), **axis_common),
    legend=dict(x=378 / W, y=1 - 285 / H, xanchor="left", yanchor="top",
                bgcolor="rgba(0,0,0,0)", itemwidth=37,
                font=dict(family=FONT, size=18, color="black")),
    legend2=dict(x=726 / W, y=1 - 14 / H, xanchor="left", yanchor="top",
                 bgcolor="rgba(0,0,0,0)", itemwidth=54,
                 font=dict(family=FONT, size=18, color="black")),
    showlegend=True,
)

fig.write_html("out.html")
